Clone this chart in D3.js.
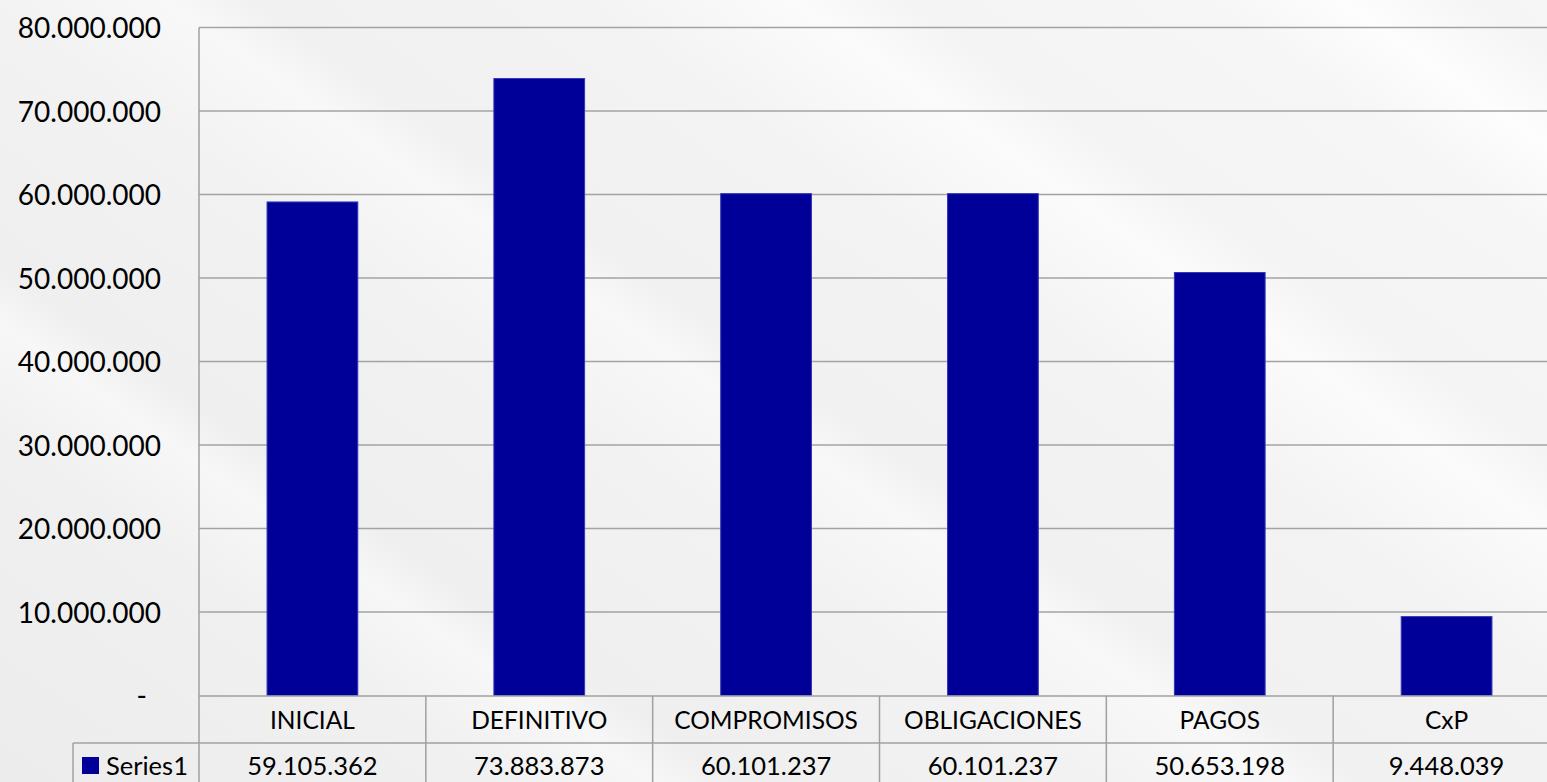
<!DOCTYPE html>
<html>
<head>
<meta charset="utf-8">
<script src="https://cdn.jsdelivr.net/npm/d3@7"></script>
<style>
  html, body { margin: 0; padding: 0; background: #f1f1f1; overflow: hidden; }
  svg { display: block; }
  text { font-family: Lato, "Open Sans", sans-serif; fill: #000; }
</style>
</head>
<body>
<svg id="chart" width="1547" height="782"></svg>
<script>
// Budget execution figures
const categories = ["INICIAL", "DEFINITIVO", "COMPROMISOS", "OBLIGACIONES", "PAGOS", "CxP"];
const seriesName = "Series1";
const values = [59105362, 73883873, 60101237, 60101237, 50653198, 9448039];
const yTicks = [0, 10000000, 20000000, 30000000, 40000000, 50000000, 60000000, 70000000, 80000000];

const W = 1547, H = 782;
const plot = { left: 199, right: 1560, top: 27.5, bottom: 695.5 };
const headerBottom = 743;
const legendCellLeft = 73;

const svg = d3.select("#chart");

// Soft marble-like backdrop with diagonal light streaks
const defs = svg.append("defs");
const g1 = defs.append("linearGradient").attr("id", "bg")
  .attr("gradientUnits", "userSpaceOnUse")
  .attr("x1", 0).attr("y1", 782).attr("x2", 900).attr("y2", -500);
[[0, "#ececec"], [0.18, "#f0f0f0"], [0.24, "#f7f7f7"], [0.27, "#efefef"], [0.4, "#f2f2f2"],
 [0.47, "#f8f8f8"], [0.5, "#f1f1f1"], [0.62, "#f3f3f3"], [0.7, "#fbfbfb"], [0.74, "#f4f4f4"],
 [0.85, "#f6f6f6"], [0.9, "#fdfdfd"], [0.95, "#f5f5f5"], [1, "#f7f7f7"]]
  .forEach(([o, c]) => g1.append("stop").attr("offset", o).attr("stop-color", c));
svg.append("rect").attr("width", W).attr("height", H).attr("fill", "url(#bg)");

const y = d3.scaleLinear().domain([0, 80000000]).range([plot.bottom, plot.top]);
const cols = d3.scaleBand().domain(categories).range([plot.left, plot.right]).padding(0);
const bars = d3.scaleBand().domain(categories).range([plot.left, plot.right])
  .paddingInner(0.6).paddingOuter(0.3);

const gridColor = "#a3a3a3";
const fmt = d => d === 0 ? "-" : d3.format(",")(d).replace(/,/g, ".");

// Horizontal gridlines
svg.append("g").selectAll("line").data(yTicks.filter(d => d > 0)).join("line")
  .attr("x1", plot.left).attr("x2", plot.right)
  .attr("y1", d => y(d)).attr("y2", d => y(d))
  .attr("stroke", gridColor).attr("stroke-width", 1.5);

// Value axis labels
const yAxis = svg.append("g").attr("transform", `translate(${plot.left},0)`)
  .call(d3.axisLeft(y).tickValues(yTicks).tickFormat(fmt).tickSize(0).tickPadding(38));
yAxis.select(".domain").remove();
yAxis.selectAll("text").style("font-size", "28px").style("font-family", "Lato, sans-serif")
  .attr("dy", "0.36em")
  .attr("x", d => d === 0 ? -52 : -38);

// Bars
svg.append("g").selectAll("rect").data(values).join("rect")
  .attr("x", (d, i) => bars(categories[i]))
  .attr("width", bars.bandwidth())
  .attr("y", d => y(d))
  .attr("height", d => y(0) - y(d))
  .attr("fill", "#000099")
  .attr("stroke", "#3434b8").attr("stroke-width", 1);

// Data table lines
const tbl = svg.append("g").attr("stroke", "#a0a0a0").attr("stroke-width", 1.5);
tbl.append("line").attr("x1", plot.left).attr("x2", plot.right).attr("y1", plot.bottom + 0.5).attr("y2", plot.bottom + 0.5);
tbl.append("line").attr("x1", legendCellLeft).attr("x2", plot.right).attr("y1", headerBottom).attr("y2", headerBottom);
tbl.append("line").attr("x1", plot.left).attr("x2", plot.left).attr("y1", plot.top).attr("y2", H);
tbl.append("line").attr("x1", legendCellLeft).attr("x2", legendCellLeft).attr("y1", headerBottom).attr("y2", H);
tbl.selectAll(".sep").data(categories.slice(1)).join("line").attr("class", "sep")
  .attr("x1", d => cols(d)).attr("x2", d => cols(d))
  .attr("y1", plot.bottom).attr("y2", H);

// Category header row
svg.append("g").selectAll("text").data(categories).join("text")
  .attr("x", d => cols(d) + cols.bandwidth() / 2)
  .attr("y", 720).attr("dy", "0.36em")
  .attr("text-anchor", "middle").style("font-size", "24.5px")
  .text(d => d);

// Values row
svg.append("g").selectAll("text").data(values).join("text")
  .attr("x", (d, i) => cols(categories[i]) + cols.bandwidth() / 2)
  .attr("y", 766).attr("dy", "0.36em")
  .attr("text-anchor", "middle").style("font-size", "25.5px")
  .text(d => fmt(d));

// Legend key in table
svg.append("rect").attr("x", 82).attr("y", 757).attr("width", 17).attr("height", 17).attr("fill", "#000099");
svg.append("text").attr("x", 106).attr("y", 766).attr("dy", "0.36em")
  .style("font-size", "25.5px").text(seriesName);
</script>
</body>
</html>
